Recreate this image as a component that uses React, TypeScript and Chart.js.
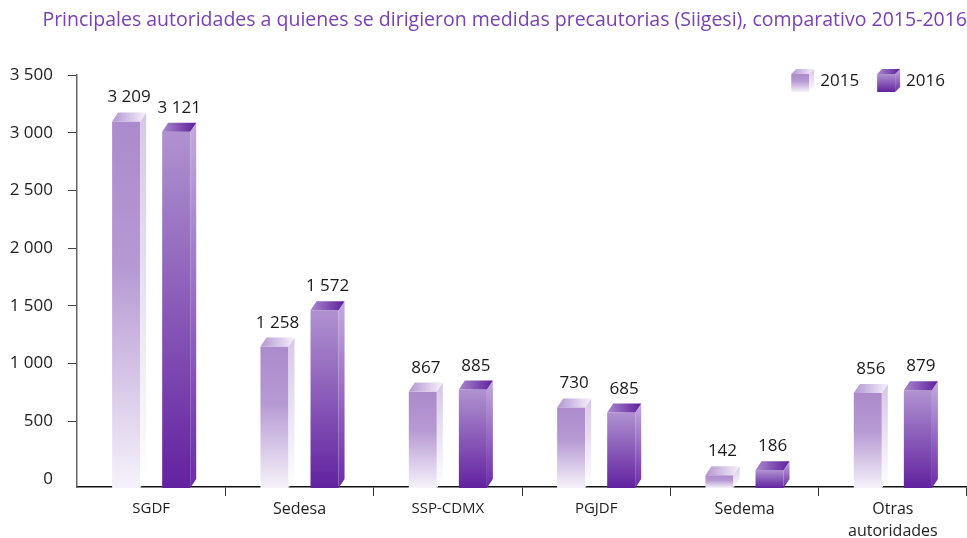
import React, { useEffect, useRef } from 'react';
import { Chart, registerables } from 'chart.js';

Chart.register(...registerables);

const chartTitle =
  'Principales autoridades a quienes se dirigieron medidas precautorias (Siigesi), comparativo 2015-2016';
const categories: (string | string[])[] = ['SGDF', 'Sedesa', 'SSP-CDMX', 'PGJDF', 'Sedema', ['Otras', 'autoridades']];
const seriesLabels = ['2015', '2016'];
const values2015 = [3209, 1258, 867, 730, 142, 856];
const values2016 = [3121, 1572, 885, 685, 186, 879];
const yTickValues = [0, 500, 1000, 1500, 2000, 2500, 3000, 3500];

const FONT = "'Open Sans', 'Noto Sans', sans-serif";
const DEPTH_X = 6;
const DEPTH_Y = 9;

type Stops = [number, string][];
interface BoxStyle { front: Stops; side: Stops; top: Stops; }

const boxStyles: BoxStyle[] = [
  {
    front: [[0, '#AC8ACB'], [0.4, '#B699D3'], [1, '#F6F2FA']],
    side: [[0, '#D6C6E8'], [1, '#FFFFFF']],
    top: [[0, '#B396D2'], [1, '#F6F1FB']],
  },
  {
    front: [[0, '#B092D0'], [1, '#6222A0']],
    side: [[0, '#C4ABDE'], [1, '#6A2BA8']],
    top: [[0, '#A887CC'], [1, '#5E1E9C']],
  },
];

function fmt(v: number) {
  return String(v).replace(/\B(?=(\d{3})+(?!\d))/g, ' ');
}

function grad(ctx: CanvasRenderingContext2D, x0: number, y0: number, x1: number, y1: number, stops: Stops) {
  const g = ctx.createLinearGradient(x0, y0, x1, y1);
  stops.forEach(([o, c]) => g.addColorStop(o, c));
  return g;
}

function drawBox(
  ctx: CanvasRenderingContext2D,
  left: number, right: number, top: number, bottom: number,
  dx: number, dy: number, st: BoxStyle
) {
  ctx.fillStyle = grad(ctx, 0, top, 0, bottom, st.front);
  ctx.fillRect(left, top, right - left, bottom - top);

  ctx.beginPath();
  ctx.moveTo(right, top);
  ctx.lineTo(right + dx, top - dy);
  ctx.lineTo(right + dx, bottom - dy);
  ctx.lineTo(right, bottom);
  ctx.closePath();
  ctx.fillStyle = grad(ctx, 0, top - dy, 0, bottom, st.side);
  ctx.fill();

  ctx.beginPath();
  ctx.moveTo(left, top);
  ctx.lineTo(left + dx, top - dy);
  ctx.lineTo(right + dx, top - dy);
  ctx.lineTo(right, top);
  ctx.closePath();
  ctx.fillStyle = grad(ctx, left, 0, right + dx, 0, st.top);
  ctx.fill();
}

const bars3d = {
  id: 'bars3d',
  afterDatasetsDraw(chart: any) {
    const ctx: CanvasRenderingContext2D = chart.ctx;
    const area = chart.chartArea;
    ctx.save();
    chart.data.datasets.forEach((ds: any, di: number) => {
      const meta = chart.getDatasetMeta(di);
      if (meta.hidden) return;
      meta.data.forEach((el: any, i: number) => {
        const p = el.getProps(['x', 'y', 'width', 'base'], true);
        const left = p.x - p.width / 2;
        const right = p.x + p.width / 2;
        const bottom = Math.min(p.base, area.bottom + 1);
        drawBox(ctx, left, right, p.y, bottom, DEPTH_X, DEPTH_Y, boxStyles[di]);
        ctx.fillStyle = '#1a1a1a';
        ctx.font = `17px ${FONT}`;
        ctx.textAlign = 'center';
        ctx.textBaseline = 'alphabetic';
        ctx.fillText(fmt(ds.data[i]), p.x + DEPTH_X / 2, p.y - DEPTH_Y - 10);
      });
    });
    ctx.restore();
  },
};

const legend3d = {
  id: 'legend3d',
  afterDraw(chart: any) {
    const ctx: CanvasRenderingContext2D = chart.ctx;
    const area = chart.chartArea;
    ctx.save();
    ctx.font = `17px ${FONT}`;
    const baseline = area.top + 11;
    let x = area.right - 22;
    const ds = chart.data.datasets;
    for (let di = ds.length - 1; di >= 0; di--) {
      const label = ds[di].label as string;
      const w = ctx.measureText(label).width;
      ctx.fillStyle = '#1a1a1a';
      ctx.textAlign = 'left';
      ctx.textBaseline = 'alphabetic';
      ctx.fillText(label, x - w, baseline);
      const right = x - w - 6 - 5;
      const left = right - 18;
      drawBox(ctx, left, right, baseline - 12, baseline + 6, 5, 5, boxStyles[di]);
      x = left - 18;
    }
    ctx.restore();
  },
};

export default function App() {
  const canvasRef = useRef<HTMLCanvasElement | null>(null);

  useEffect(() => {
    if (!canvasRef.current) return;
    const chart = new Chart(canvasRef.current, {
      type: 'bar',
      data: {
        labels: categories as any,
        datasets: [
          { label: seriesLabels[0], data: values2015, yAxisID: 'y1', backgroundColor: 'rgba(0,0,0,0)', borderWidth: 0 },
          { label: seriesLabels[1], data: values2016, yAxisID: 'y1', backgroundColor: 'rgba(0,0,0,0)', borderWidth: 0 },
        ],
      },
      options: {
        responsive: false,
        animation: false,
        categoryPercentage: 0.675,
        barPercentage: 0.56,
        layout: { padding: { left: 0, right: 0, top: 0, bottom: 0 } },
        plugins: {
          legend: { display: false },
          tooltip: { enabled: false },
          title: {
            display: true,
            text: chartTitle,
            align: 'end',
            color: '#7A40B5',
            font: { family: FONT, size: 19.5, weight: 'normal', lineHeight: 1.2 },
            padding: { top: 9, bottom: 42.6 },
          },
        },
        scales: {
          x: {
            grid: {
              offset: true,
              drawOnChartArea: false,
              drawTicks: true,
              tickLength: 9,
              color: (ctx: any) => (ctx.index === 0 ? 'rgba(0,0,0,0)' : '#333'),
            },
            border: { display: true, color: '#111', width: 1.5 },
            ticks: {
              autoSkip: false,
              maxRotation: 0,
              padding: 3,
              color: '#222',
              font: (ctx: any) => {
                const lab = ctx.tick ? ctx.tick.label : '';
                const s = Array.isArray(lab) ? lab.join(' ') : String(lab);
                return { family: FONT, size: /^[A-Z-]+$/.test(s) ? 15 : 16, lineHeight: 1.35 };
              },
            },
            afterFit: (s: any) => { s.height = 51; },
          },
          y: {
            position: 'left',
            min: -72,
            max: 3500,
            afterBuildTicks: (axis: any) => { axis.ticks = yTickValues.map((v) => ({ value: v })); },
            grid: {
              drawOnChartArea: false,
              drawTicks: true,
              tickLength: 9,
              tickColor: (ctx: any) => (ctx.tick && ctx.tick.value === 0 ? 'rgba(0,0,0,0)' : '#444'),
              color: '#444',
            },
            border: { display: true, color: '#666', width: 1.5 },
            ticks: {
              padding: 15,
              color: '#222',
              font: { family: FONT, size: 17 },
              callback: (v: any) => fmt(Number(v)),
            },
            afterFit: (s: any) => { s.width = 77; },
          },
          y1: {
            display: false,
            min: 40,
            max: 3612,
          },
        },
      } as any,
      plugins: [bars3d, legend3d],
    });
    return () => chart.destroy();
  }, []);

  return (
    <div style={{ position: 'fixed', left: 0, top: 0, width: 967, height: 538, background: '#fff' }}>
      <canvas ref={canvasRef} width={967} height={538} style={{ display: 'block' }} />
    </div>
  );
}
